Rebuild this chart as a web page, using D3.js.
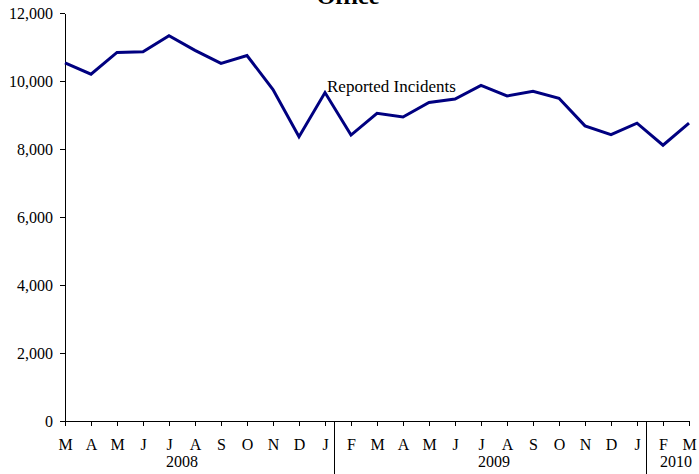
<!DOCTYPE html>
<html lang="en">
  <head>
    <meta charset="utf-8" />
    <script src="https://d3js.org/d3.v7.min.js" charset="utf-8"></script>
    <style>
      body {
        margin: 0;
        background: #fff;
        font-family: 'Liberation Serif', 'Times New Roman', serif;
      }
      .axis path,
      .axis line {
        stroke: #000;
        stroke-width: 1;
        shape-rendering: crispEdges;
      }
      .axis text {
        font-family: 'Liberation Serif', 'Times New Roman', serif;
        font-size: 16px;
        fill: #000;
      }
    </style>
  </head>
  <body>
    <div id="plot-container"></div>

    <script type="text/javascript">
      // data //-----------------------------------------------------------

      // one label per month, Mar 2008 .. Mar 2010 (labels as printed)
      var month_labels = [
        'M', 'A', 'M', 'J', 'J', 'A', 'S', 'O', 'N', 'D', 'J',
        'F', 'M', 'A', 'M', 'J', 'J', 'A', 'S', 'O', 'N', 'D', 'J',
        'F', 'M',
      ];

      // reported incidents per month
      var incidents = [
        10530, 10200, 10840, 10860, 11330, 10900, 10520, 10750, 9750, 8360,
        9660, 8410, 9050, 8940, 9370, 9470, 9870, 9560, 9700, 9490, 8680,
        8420, 8760, 8110, 8760,
      ];

      // year groups on the category axis (first/last month index)
      var years = ['2008', '2009', '2010'];
      var year_first = [-1, 11, 23];
      var year_last = [10, 22, 24];

      var y_ticks = [0, 2000, 4000, 6000, 8000, 10000, 12000];
      var series_label = 'Reported Incidents';
      var title_text = 'Office';

      // dimensions //-----------------------------------------------------

      var container_dimensions = { width: 699, height: 474 };
      var margin = { top: 13, right: 10, bottom: 53, left: 65 };
      var width = container_dimensions.width - margin.left - margin.right;
      var height = container_dimensions.height - margin.top - margin.bottom;

      var svg = d3
        .select('#plot-container')
        .append('svg')
        .attr('width', container_dimensions.width)
        .attr('height', container_dimensions.height);

      var plot = svg
        .append('g')
        .attr('transform', `translate(${margin.left}, ${margin.top})`);

      // scales
      var scale_x = d3
        .scaleLinear()
        .domain([0, incidents.length - 1])
        .range([0, width]);

      var scale_y = d3.scaleLinear().domain([0, 12000]).range([height, 0]);

      // axes //-----------------------------------------------------------

      plot
        .append('g')
        .attr('class', 'axis')
        .call(
          d3
            .axisLeft(scale_y)
            .tickValues(y_ticks)
            .tickSize(5)
            .tickSizeOuter(0)
            .tickPadding(7)
            .tickFormat(d3.format(','))
        );

      var x_axis = plot
        .append('g')
        .attr('class', 'axis')
        .attr('transform', `translate(0, ${height})`)
        .call(
          d3
            .axisBottom(scale_x)
            .tickValues(d3.range(incidents.length))
            .tickSize(5)
            .tickSizeOuter(0)
            .tickPadding(13)
            .tickFormat((i) => month_labels[i])
        );

      // year separators (tall ticks between groups)
      years.slice(0, -1).forEach((y, k) => {
        var sx = scale_x(year_last[k] + 0.35);
        x_axis
          .append('line')
          .attr('x1', sx)
          .attr('x2', sx)
          .attr('y1', 0)
          .attr('y2', margin.bottom);
      });

      // year labels
      x_axis
        .selectAll('.year')
        .data(years)
        .join('text')
        .attr('class', 'year')
        .attr('x', (d, k) => scale_x((year_first[k] + year_last[k]) / 2))
        .attr('y', 46)
        .attr('text-anchor', 'middle')
        .text((d) => d);

      // line //-----------------------------------------------------------

      var line = d3
        .line()
        .x((d, i) => scale_x(i))
        .y((d) => scale_y(d));

      plot
        .append('path')
        .datum(incidents)
        .attr('fill', 'none')
        .attr('stroke', '#000080')
        .attr('stroke-width', 3)
        .attr('stroke-linejoin', 'miter')
        .attr('d', line);

      // series label next to the Jan 2009 peak
      plot
        .append('text')
        .attr('x', scale_x(10) + 2)
        .attr('y', scale_y(incidents[10]) - 1)
        .attr('font-size', '17px')
        .attr('fill', '#000')
        .text(series_label);

      // title, cut off at top as in the source
      svg
        .append('text')
        .attr('x', 348)
        .attr('y', 4)
        .attr('text-anchor', 'middle')
        .attr('font-size', '24px')
        .attr('font-weight', 'bold')
        .attr('fill', '#000')
        .text(title_text);
    </script>
  </body>
</html>
